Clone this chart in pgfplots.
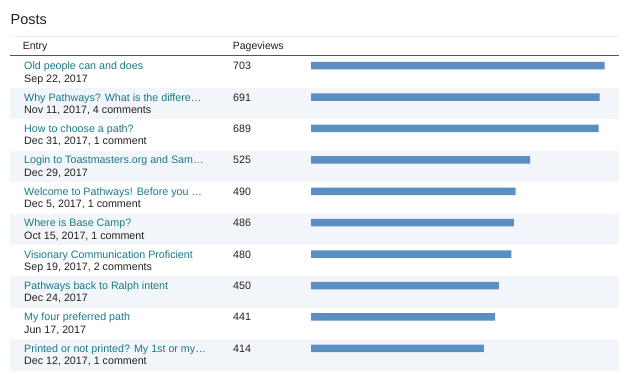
\documentclass[border=0pt]{standalone}
\usepackage{pgfplots}
\pgfplotsset{compat=1.18}
\usepackage{fontspec}
\setmainfont{Liberation Sans}
\definecolor{barcol}{HTML}{5B8EC3}
\definecolor{linkcol}{HTML}{1A7A89}
\definecolor{txtcol}{HTML}{222222}
\definecolor{rowshade}{HTML}{F2F5FA}
\definecolor{hline}{HTML}{EEEEEE}
\definecolor{dline}{HTML}{555555}
\begin{document}
\begin{tikzpicture}[x=1bp,y=1bp]
\useasboundingbox (0,0) rectangle (640,376);
\fill[white] (0,0) rectangle (640,376);
% title
\node[anchor=base west,inner sep=0,text=txtcol,font=\fontsize{14.5bp}{16bp}\selectfont] at (10.5,{376-24.3}) {Posts};
\draw[hline,line width=1bp] (10,{376-36.5}) -- (619,{376-36.5});
\node[anchor=base west,inner sep=0,text=txtcol,font=\fontsize{10.5bp}{12bp}\selectfont] at (22.7,{376-49.3}) {Entry};
\node[anchor=base west,inner sep=0,text=txtcol,font=\fontsize{10.5bp}{12bp}\selectfont] at (232.7,{376-49.3}) {Pageviews};
% shaded rows
\foreach \k in {1,3,5,7,9}{
  \fill[rowshade] (10,{376-56.5-31.4*\k}) rectangle (619,{376-56.5-31.4*(\k+1)});
}
\draw[dline,line width=1.3bp] (10,{376-55.3}) -- (619,{376-55.3});
% row texts
\foreach \k/\t/\d/\v in {
 0/{Old people can and does}/{Sep 22, 2017}/703,
 1/{Why Pathways? What is the differe…}/{Nov 11, 2017, 4 comments}/691,
 2/{How to choose a path?}/{Dec 31, 2017, 1 comment}/689,
 3/{Login to Toastmasters.org and Sam…}/{Dec 29, 2017}/525,
 4/{Welcome to Pathways! Before you …}/{Dec 5, 2017, 1 comment}/490,
 5/{Where is Base Camp?}/{Oct 15, 2017, 1 comment}/486,
 6/{Visionary Communication Proficient}/{Sep 19, 2017, 2 comments}/480,
 7/{Pathways back to Ralph intent}/{Dec 24, 2017}/450,
 8/{My four preferred path}/{Jun 17, 2017}/441,
 9/{Printed or not printed? My 1st or my…}/{Dec 12, 2017, 1 comment}/414}{
  \node[anchor=base west,inner sep=0,text=linkcol,font=\fontsize{10.7bp}{12bp}\selectfont] at (24,{376-56.5-31.4*\k-13.2}) {\t};
  \node[anchor=base west,inner sep=0,text=txtcol,font=\fontsize{10.7bp}{12bp}\selectfont] at (24,{376-56.5-31.4*\k-25.5}) {\d};
  \node[anchor=base west,inner sep=0,text=txtcol,font=\fontsize{10.7bp}{12bp}\selectfont] at (233,{376-56.5-31.4*\k-13.2}) {\v};
}
\begin{axis}[
  at={(0,0)}, anchor=south west,
  scale only axis, width=640bp, height=376bp,
  hide axis,
  xmin=-745, xmax=788,
  ymin=0, ymax=376,
  xbar, bar width=7.5,
  clip=false,
]
\addplot[fill=barcol, draw=none] coordinates {
 (703,310.3) (691,278.9) (689,247.5) (525,216.1) (490,184.7)
 (486,153.3) (480,121.9) (450,90.5) (441,59.1) (414,27.7)
};
\end{axis}
\end{tikzpicture}
\end{document}
